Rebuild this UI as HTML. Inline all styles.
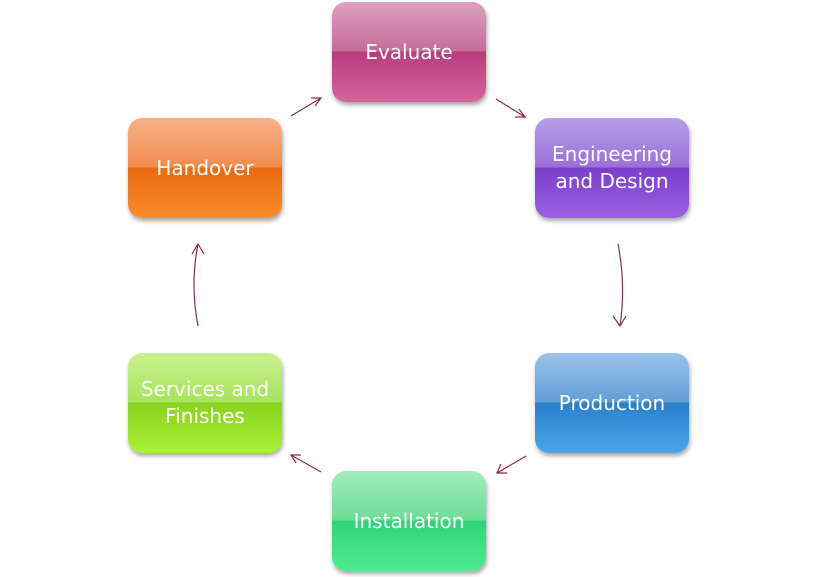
<!DOCTYPE html>
<html><head><style>
body{margin:0;width:818px;height:577px;background:#fff;position:relative;overflow:hidden;font-family:"DejaVu Sans","Liberation Sans",sans-serif;}
.b{position:absolute;width:154px;height:100px;border-radius:14px;color:#fff;font-size:20px;display:flex;align-items:center;justify-content:center;text-align:center;line-height:27px;box-shadow:1px 3px 4px rgba(0,0,0,.35);}
</style></head><body>
<div class="b" style="left:332px;top:2px;background:linear-gradient(#dda0c0,#c56c99 49%,#b83c7b 50%,#d4649f)">Evaluate</div>
<div class="b" style="left:535px;top:118px;background:linear-gradient(#b79ee8,#9a70d8 49%,#7a3ecb 50%,#9c60e2)">Engineering<br>and Design</div>
<div class="b" style="left:535px;top:353px;background:linear-gradient(#9cc3ea,#609ed6 49%,#2a7fcb 50%,#4ca5ea)">Production</div>
<div class="b" style="left:332px;top:471px;background:linear-gradient(#a2edba,#6edc99 49%,#2ed575 50%,#50ea90)">Installation</div>
<div class="b" style="left:128px;top:353px;background:linear-gradient(#caf190,#a7e35c 49%,#8ad31c 50%,#a9f036)">Services and<br>Finishes</div>
<div class="b" style="left:128px;top:118px;background:linear-gradient(#f9b28a,#f08c4e 49%,#e86a0e 50%,#fb8c2e)">Handover</div>
<svg width="818" height="577" style="position:absolute;left:0;top:0" fill="none" stroke="#8b2c4e" stroke-width="1.2">
<path d="M496 99 L525 117 M515 117 L525 117 L519 109"/>
<path d="M291 116 L321 98 M311 98 L321 98 L315 106"/>
<path d="M618 244 Q626 285 620 326 M613 316 L620 326 L626 316"/>
<path d="M526 456 L497 473 M501 464 L497 473 L507 473"/>
<path d="M321 472 L291 455 M301 455 L291 455 L296 463"/>
<path d="M198 326 Q190 285 198 244 M192 254 L198 244 L204 254"/>
</svg>
</body></html>
